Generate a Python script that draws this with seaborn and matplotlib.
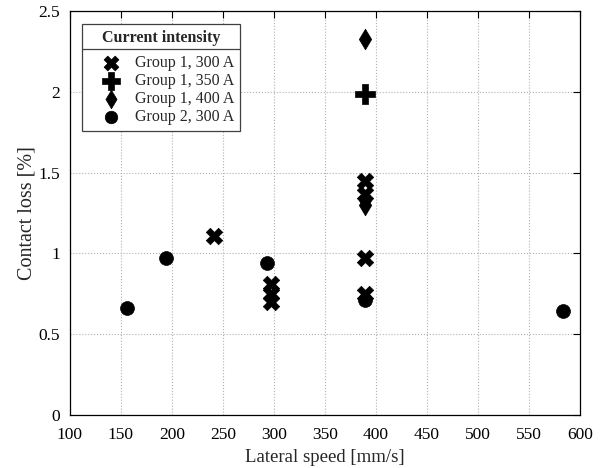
import matplotlib
matplotlib.use("Agg")
import matplotlib.pyplot as plt
import seaborn as sns
import pandas as pd
from matplotlib.lines import Line2D

# Data
g1_300_x = [241, 297, 297, 297, 389, 389, 389, 389]
g1_300_y = [1.11, 0.81, 0.75, 0.70, 1.45, 1.37, 0.97, 0.75]
g1_350_x = [389]
g1_350_y = [1.99]
g1_400_x = [389, 389, 389]
g1_400_y = [2.33, 1.33, 1.30]
g2_300_x = [156, 194, 293, 389, 583]
g2_300_y = [0.66, 0.97, 0.94, 0.71, 0.64]
labels = ["Group 1, 300 A", "Group 1, 350 A", "Group 1, 400 A", "Group 2, 300 A"]

xs = [g1_300_x, g1_350_x, g1_400_x, g2_300_x]
ys = [g1_300_y, g1_350_y, g1_400_y, g2_300_y]
rows = []
for lab, xv, yv in zip(labels, xs, ys):
    for a, b in zip(xv, yv):
        rows.append({"speed": a, "loss": b, "group": lab})
df = pd.DataFrame(rows)

sns.set_style("white")
plt.rcParams["font.family"] = ["Liberation Serif", "DejaVu Serif"]

fig = plt.figure(figsize=(6.03, 4.68), dpi=100)
ax = fig.add_axes([0.1156, 0.1139, 0.8463, 0.862])

markers = {labels[0]: "X", labels[1]: "P", labels[2]: "d", labels[3]: "o"}
sizes = {labels[0]: 140, labels[1]: 190, labels[2]: 110, labels[3]: 100}
for lab in labels:
    sub = df[df["group"] == lab]
    sns.scatterplot(data=sub, x="speed", y="loss", marker=markers[lab], s=sizes[lab],
                    color="black", edgecolor="black", linewidth=0.5, ax=ax, label=lab,
                    zorder=3)

ax.set_xlim(100, 600)
ax.set_ylim(0, 2.5)
ax.set_xticks(range(100, 601, 50))
ax.set_yticks([0, 0.5, 1, 1.5, 2, 2.5])
ax.set_yticklabels(["0", "0.5", "1", "1.5", "2", "2.5"])
ax.grid(True, linestyle=":", color="#b0b0b0", linewidth=0.8)
ax.set_axisbelow(True)
ax.tick_params(direction="in", top=True, right=True, length=5, width=0.8,
               labelsize=12.5, colors="black")
ax.tick_params(axis="x", pad=9)
ax.tick_params(axis="y", pad=7)
for sp in ax.spines.values():
    sp.set_color("black")
    sp.set_linewidth(0.9)
ax.set_xlabel("Lateral speed [mm/s]", fontsize=13.5, labelpad=4)
ax.set_ylabel("Contact loss [%]", fontsize=14.5, labelpad=1)

leg = ax.legend(loc="upper left", bbox_to_anchor=(0.0235, 0.9685), borderaxespad=0,
                title="Current intensity", fancybox=False, edgecolor="#404040",
                framealpha=1, fontsize=11.5, handletextpad=0.0, labelspacing=0.12,
                borderpad=0.35, handlelength=3.0, markerscale=0.9)
leg.get_title().set_fontweight("bold")
leg.get_title().set_fontsize(11.5)
leg.get_frame().set_linewidth(0.9)
leg._legend_box.sep = 7

fig.canvas.draw()
inv = ax.transAxes.inverted()
fb = leg.get_frame().get_window_extent()
tb = leg.get_title().get_window_extent()
x0, _ = inv.transform((fb.x0, fb.y0))
x1, _ = inv.transform((fb.x1, fb.y0))
_, yl = inv.transform((0, tb.y0 - 3))
ax.add_line(Line2D([x0, x1], [yl, yl], transform=ax.transAxes, color="#404040",
                   linewidth=0.9, zorder=10, clip_on=False))

fig.savefig("out.png", dpi=100)
